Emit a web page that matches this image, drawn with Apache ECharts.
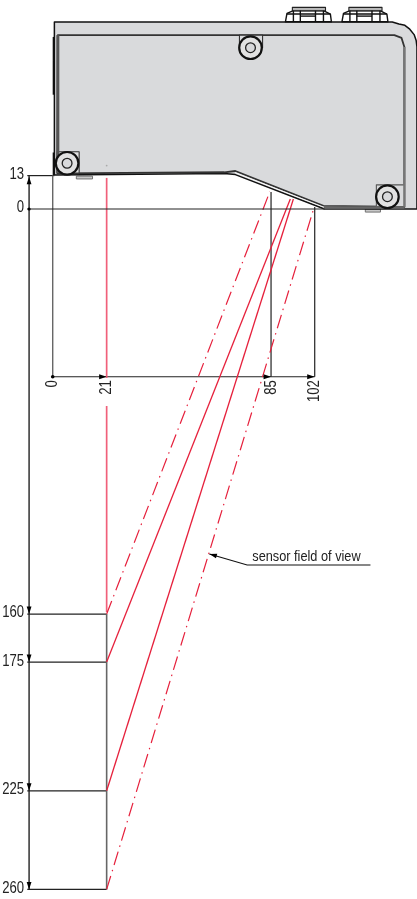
<!DOCTYPE html>
<html><head><meta charset="utf-8">
<style>html,body{margin:0;padding:0;background:#fff}#c{width:417px;height:899px}</style>
<script src="https://cdn.jsdelivr.net/npm/echarts@6/dist/echarts.min.js"></script>
</head><body><div id="c"></div>
<script>
// All coordinates are in drawing millimetres: x from the housing's left edge, y downward from the 0 reference.
const FONT = '"Liberation Sans",Arial,sans-serif';
const BLACK = '#111', GREY = '#666', RED = '#e6203c', LIGHTRED = '#f0607a', FILL = '#d9dadc';

// Range scale: printed labels and where the (not to scale) drawing puts them
const rangeLabels = ['13', '0', '160', '175', '225', '260'];
const rangeDrawn = [-13, 0, 157.7, 176.4, 226.5, 264.9];
// Width scale
const widthLabels = ['0', '21', '85', '102'];
const widthValues = [0, 21, 85, 102];
const dimX = -9.2, dimLineStart = -9.9, widthDimY = 65.3;

// Optical paths: [x, y] start at x=21, end on the sloped housing face
const fovLeft = [[21, 157.7], [84.5, -6.7]];
const fovRight = [[21, 264.9], [101.8, -0.8]];
const beamNear = [[21, 176.4], [92.5, -3.9]];
const beamFar = [[21, 226.5], [93.7, -3.9]];
const emitterUpper = [[21, -12.1], [21, 65.8]];
const emitterLower = [[21, 76.7], [21, 156.9]];

// Housing
const housingOuter = [[0.65, -72.8], [132.2, -72.8], [134.8, -72], [137.1, -71.5], [139, -70], [140.7, -67.9], [141.5, -65.6], [141.8, -63.1], [141.8, 0], [105.8, 0], [71.1, -13.4], [66.8, -13.8], [0.65, -13.2]];
const housingInner = [[2, -67.7], [133, -67.7], [135.8, -66.6], [136.9, -63.1], [136.9, -0.8], [105.4, -1.2], [71.1, -14.8], [66.8, -14.3], [1.8, -13.9]];
const cornerPadLeft = [[1.8, -22.3], [10.3, -22.3], [10.3, -14], [1.8, -14]];
const mountTop = [[72.7, -67.7], [81.7, -67.7], [81.7, -62.8], [72.7, -62.8]];
const mountRight = [[126, -9.4], [136.9, -9.4], [136.9, -1], [126, -1]];
const screwCentres = [[5.6, -17.8], [77, -62.8], [130.3, -4.8]];
const footLeft = [[9.2, -12.8], [15.5, -12.8], [15.5, -11.7], [9.2, -11.7]];
const footRight = [[121.7, 0], [127.6, 0], [127.6, 1.2], [121.7, 1.2]];
const sideTabs = [[[0.3, -67], [0.3, -58]], [[0.3, -58], [0.3, -44.5]], [[0.3, -22], [0.3, -13.2]]];

// Cable glands on the top face
const glandOffsets = [0, 22];
const glandBody = [[90.6, -72.9], [91.2, -76.2], [93.7, -77.2], [105.4, -77.2], [108.1, -75.9], [108.5, -72.9]];
const glandCap = [[93.3, -78.5], [106.2, -78.5], [106.2, -77.2], [93.3, -77.2]];
const glandLines = [[[91.2, -75.9], [108.1, -75.9]], [[93.7, -77.2], [93.7, -72.9]], [[96.4, -77.2], [96.4, -72.9]], [[102.3, -77.2], [102.3, -72.9]], [[105.4, -77.2], [105.4, -72.9]], [[96.4, -75.1], [102.3, -75.1]]];

// Sensor field of view callout
const calloutText = 'sensor field of view';
const calloutLine = [[61, 134.3], [75.7, 138.6], [123.7, 138.6]];
const calloutLabelAt = [77.7, 135.6];

const series = [];
function line(points, color, width, dash, z) {
  series.push({type: 'line', data: points, symbol: 'none', silent: true, animation: false, z: z || 5,
    lineStyle: {color, width, type: dash || 'solid', cap: 'butt', join: 'miter'}});
}
function custom(render, z) {
  series.push({type: 'custom', data: [[0, 0]], silent: true, animation: false, z: z || 5, clip: false, renderItem: render});
}
function poly(points, fill, stroke, width, z) {
  custom((p, api) => ({type: 'polygon', shape: {points: points.map(q => api.coord(q))},
    style: {fill: fill || 'none', stroke: stroke || 'none', lineWidth: width || 0, lineJoin: 'round'}}), z);
}
function arrow(tip, angleDeg, z) {
  custom((p, api) => {
    const t = api.coord(tip), a = angleDeg * Math.PI / 180, L = 7.5, W = 2.4;
    const bx = t[0] - L * Math.cos(a), by = t[1] - L * Math.sin(a);
    return {type: 'polygon', shape: {points: [t, [bx - W * Math.sin(a), by + W * Math.cos(a)], [bx + W * Math.sin(a), by - W * Math.cos(a)]]},
      style: {fill: '#000'}};
  }, z || 8);
}
function dot(at, r, color) {
  custom((p, api) => { const t = api.coord(at); return {type: 'circle', shape: {cx: t[0], cy: t[1], r}, style: {fill: color}}; }, 8);
}
function text(label, at, dx, dy, opts) {
  custom((p, api) => {
    const t = api.coord(at);
    return {type: 'text', x: t[0] + dx, y: t[1] + dy, rotation: opts.rotation || 0, scaleX: opts.squeeze || 1,
      style: {text: label, fill: '#222', font: opts.size + 'px ' + FONT, textAlign: opts.align, textVerticalAlign: 'middle'}};
  }, 9);
}

// Housing body
poly(housingOuter, FILL, BLACK, 1.5, 2);
poly(housingInner, FILL, '#333', 1.8, 3);
line([[2, -67.7], [2, -14]], '#555', 3, null, 4);
line([[136.9, -63.1], [136.9, -0.8]], '#777', 2.2, null, 4);
line([[105.4, -0.6], [136.9, -0.6]], '#666', 2.6, null, 4);
line([[71.1, -14.1], [105.6, -0.7]], '#fff', 0.9, null, 4);
poly(cornerPadLeft, '#e2e2e2', '#333', 1.1, 4);
poly(mountTop, FILL, '#333', 1.1, 4);
poly(mountRight, FILL, '#555', 1.1, 4);
poly(footLeft, '#c8c8c8', '#666', 0.9, 1);
poly(footRight, '#c8c8c8', '#666', 0.9, 1);
sideTabs.forEach(t => line(t, BLACK, 1.6, null, 3));
screwCentres.forEach(c => custom((p, api) => {
  const o = api.coord(c), mm = api.size([1, 0])[0];
  return {type: 'group', children: [
    {type: 'circle', shape: {cx: o[0], cy: o[1], r: 4.4 * mm}, style: {fill: '#e2e2e2', stroke: '#111', lineWidth: 2.2}},
    {type: 'circle', shape: {cx: o[0], cy: o[1], r: 1.9 * mm}, style: {fill: FILL, stroke: '#222', lineWidth: 1.3}}
  ]};
}, 6));

// Glands
glandOffsets.forEach(dx => {
  const sh = q => [q[0] + dx, q[1]];
  poly(glandBody.map(sh), '#fff', BLACK, 1.4, 3);
  poly(glandCap.map(sh), '#b8b8b8', '#222', 1.1, 3);
  glandLines.forEach(l => line(l.map(sh), BLACK, 1.4, null, 4));
});

// Dimension lines
line([[dimX, -13], [dimX, rangeDrawn[5]]], BLACK, 1.3, null, 5);
rangeDrawn.forEach((y, i) => {
  if (y === 0) line([[dimLineStart, 0], [105.8, 0]], '#222', 1.2, null, 7);
  else if (y < 0) line([[dimLineStart, y], [0.65, y]], '#222', 1.2, null, 5);
  else line([[dimLineStart, y], [21, y]], '#222', 1.3, null, 5);
  text(rangeLabels[i], [dimX, y], -5, -1, {size: 16, align: 'right', squeeze: 0.82});
});
line([[21, rangeDrawn[2]], [21, rangeDrawn[5]]], GREY, 1.6, null, 5);
line([[0, widthDimY], [0, -13]], GREY, 1.4, null, 5);
line([[85, widthDimY], [85, -6.6]], '#222', 1.2, null, 5);
line([[102, widthDimY], [102, -0.8]], '#222', 1.2, null, 5);
line([[0, widthDimY], [102, widthDimY]], '#222', 1.2, null, 6);
dot([0, widthDimY], 1.8, '#000');
dot([dimX, 0], 1.6, '#000');
widthValues.forEach((v, i) => {
  if (v > 0) arrow([v, widthDimY], 0);
  text(widthLabels[i], [v, widthDimY], 0.3, 3.5, {size: 16, align: 'right', rotation: Math.PI / 2, squeeze: 0.82});
});
arrow([dimX, -12.6], -90);
rangeDrawn.slice(2).forEach(y => arrow([dimX, y], 90));

// Optical paths
line(emitterUpper, LIGHTRED, 1.7, null, 6);
line(emitterLower, LIGHTRED, 1.7, null, 6);
line(fovLeft, RED, 1.2, [14, 5, 1.5, 5], 6);
line(fovRight, RED, 1.2, [14, 5, 1.5, 5], 6);
line(beamNear, RED, 1.3, null, 6);
line(beamFar, RED, 1.3, null, 6);
dot([21, -16.9], 0.9, '#aaa');

// Callout
line(calloutLine, BLACK, 1.2, null, 6);
arrow(calloutLine[0], 196);
text(calloutText, calloutLabelAt, 0, 0, {size: 14, align: 'left', squeeze: 0.91});

const chart = echarts.init(document.getElementById('c'), null, {renderer: 'canvas'});
chart.setOption({
  animation: false,
  backgroundColor: '#fff',
  grid: {left: 0, right: 0, top: 0, bottom: 0},
  xAxis: {type: 'value', min: -20.52, max: 141.82, show: false},
  yAxis: {type: 'value', min: -81.37, max: 268.63, inverse: true, show: false},
  series
});
</script></body></html>
